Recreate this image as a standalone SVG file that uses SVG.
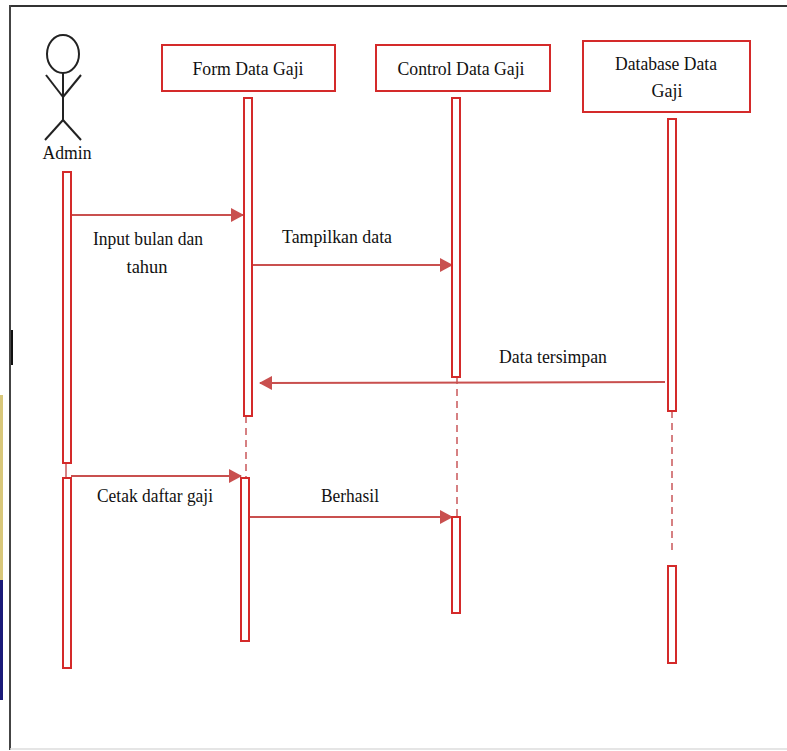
<svg xmlns="http://www.w3.org/2000/svg" width="787" height="751" viewBox="0 0 787 751">
<defs>
<style>
.box{fill:#fff;stroke:#d42a2a;stroke-width:2}
.act{fill:#fff;stroke:#d42a2a;stroke-width:2}
.life{stroke:#c9575a;stroke-width:1.5;stroke-dasharray:7 5;fill:none}
.msg{stroke:#c9504f;stroke-width:2;fill:none}
.t{font-family:"Liberation Serif","Times New Roman",serif;font-size:18px;fill:#111;text-anchor:middle}
.actor{stroke:#222;stroke-width:2;fill:none}
</style>
<marker id="ah" markerWidth="14" markerHeight="14" refX="12" refY="7" orient="auto" markerUnits="userSpaceOnUse">
<path d="M0,0 L13,7 L0,14 Z" fill="#c9504f"/>
</marker>
</defs>
<rect x="0" y="0" width="787" height="751" fill="#fff"/>
<rect x="0" y="395" width="3" height="185" fill="#d8c77a"/>
<rect x="0" y="580" width="3" height="120" fill="#1a1a7a"/>
<rect x="9" y="330" width="4" height="35" fill="#111"/>
<line x1="10" y1="6" x2="787" y2="6" stroke="#333" stroke-width="2"/>
<line x1="10" y1="5" x2="10" y2="750" stroke="#444" stroke-width="2"/>
<line x1="10" y1="749" x2="787" y2="749" stroke="#ddd" stroke-width="1.5"/>

<g id="connectors">
<line class="life" x1="66" y1="463" x2="66" y2="478" style="stroke-dasharray:none"/>
<line class="life" x1="246" y1="416" x2="246" y2="478"/>
<line class="life" x1="457" y1="377" x2="457" y2="517"/>
<line class="life" x1="672" y1="411" x2="672" y2="552"/>
<line class="msg" x1="71" y1="215" x2="243" y2="215" marker-end="url(#ah)"/>
<line class="msg" x1="253" y1="265" x2="452" y2="265" marker-end="url(#ah)"/>
<line class="msg" x1="665" y1="382" x2="260" y2="383" marker-end="url(#ah)"/>
<line class="msg" x1="71" y1="476" x2="241" y2="476" marker-end="url(#ah)"/>
<line class="msg" x1="250" y1="517" x2="452" y2="517" marker-end="url(#ah)"/>
<text class="t" x="148" y="245" textLength="110" lengthAdjust="spacingAndGlyphs">Input bulan dan</text>
<text class="t" x="147" y="273" textLength="41" lengthAdjust="spacingAndGlyphs">tahun</text>
<text class="t" x="337" y="243" textLength="110" lengthAdjust="spacingAndGlyphs">Tampilkan data</text>
<text class="t" x="553" y="363" textLength="108" lengthAdjust="spacingAndGlyphs">Data tersimpan</text>
<text class="t" x="155" y="502" textLength="116" lengthAdjust="spacingAndGlyphs">Cetak daftar gaji</text>
<text class="t" x="350" y="502" textLength="58" lengthAdjust="spacingAndGlyphs">Berhasil</text>
</g>

<g id="admin">
<ellipse class="actor" cx="63" cy="54" rx="16" ry="19"/>
<line class="actor" x1="63" y1="73" x2="63" y2="120"/>
<line class="actor" x1="46" y1="75" x2="63" y2="97"/>
<line class="actor" x1="81" y1="75" x2="63" y2="97"/>
<line class="actor" x1="63" y1="120" x2="45" y2="140"/>
<line class="actor" x1="63" y1="120" x2="81" y2="140"/>
<text class="t" x="67" y="159" textLength="49" lengthAdjust="spacingAndGlyphs">Admin</text>
<rect class="act" x="63" y="172" width="8" height="291"/>
<rect class="act" x="63" y="478" width="8" height="190"/>
</g>

<g id="form-data-gaji">
<rect class="box" x="162" y="45" width="173" height="46"/>
<text class="t" x="248" y="75" textLength="111" lengthAdjust="spacingAndGlyphs">Form Data Gaji</text>
<rect class="act" x="244" y="98" width="8" height="318"/>
<rect class="act" x="241" y="478" width="8" height="163"/>
</g>

<g id="control-data-gaji">
<rect class="box" x="376" y="45" width="174" height="46"/>
<text class="t" x="461" y="75" textLength="127" lengthAdjust="spacingAndGlyphs">Control Data Gaji</text>
<rect class="act" x="452" y="98" width="8" height="279"/>
<rect class="act" x="452" y="517" width="8" height="96"/>
</g>

<g id="database-data-gaji">
<rect class="box" x="583" y="41" width="167" height="71"/>
<text class="t" x="666" y="70" textLength="102" lengthAdjust="spacingAndGlyphs">Database Data</text>
<text class="t" x="667" y="97" textLength="31" lengthAdjust="spacingAndGlyphs">Gaji</text>
<rect class="act" x="668" y="119" width="8" height="292"/>
<rect class="act" x="668" y="566" width="8" height="97"/>
</g>
</svg>
